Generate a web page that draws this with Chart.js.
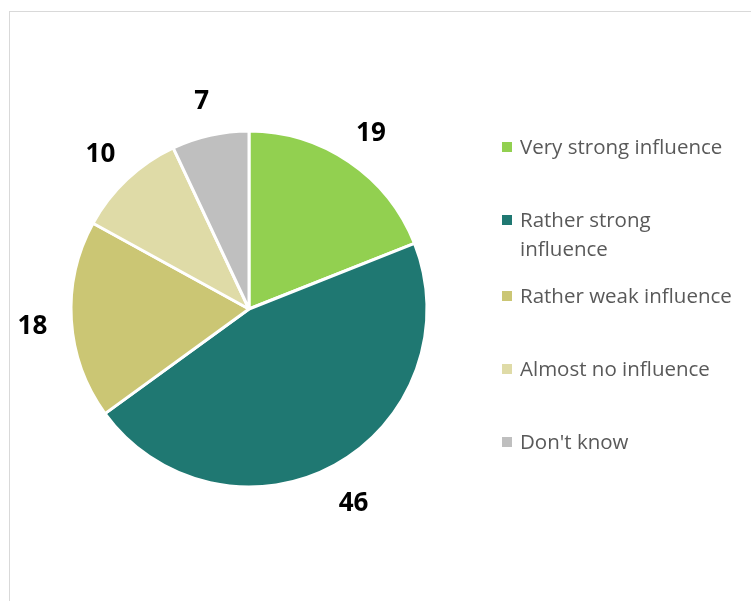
<!doctype html>
<html lang="en">
<head>
    <meta charset="UTF-8">
    <script src="https://cdn.jsdelivr.net/npm/chart.js"></script>
    <title>Influence pie</title>
    <style>
        html, body { margin: 0; padding: 0; background: #fff; }
        #wrap { position: relative; width: 751px; height: 601px; overflow: hidden; }
        #frame { position: absolute; left: 9px; top: 11px; width: 800px; height: 700px; border: 1px solid #d9d9d9; }
        #chart { position: absolute; left: 0; top: 0; }
        .item { position: absolute; left: 502px; font-family: "Open Sans", sans-serif; font-size: 20.5px; line-height: 29px; color: #595959; white-space: nowrap; }
        .item i { position: absolute; left: 0; top: 10px; width: 10px; height: 10px; }
        .item span { display: block; margin-left: 18px; }
    </style>
</head>
<body>
<div id="wrap">
    <div id="frame"></div>
    <canvas id="chart" width="751" height="601"></canvas>
    <div id="legend"></div>
</div>
<script>
    const categories = ['Very strong influence', 'Rather strong influence', 'Rather weak influence', 'Almost no influence', "Don't know"];
    const legendLines = [['Very strong influence'], ['Rather strong', 'influence'], ['Rather weak influence'], ['Almost no influence'], ["Don't know"]];
    const values = [19, 46, 18, 10, 7];
    const colors = ['#92d050', '#1f7872', '#cbc674', '#dfdba7', '#bfbfbf'];

    // legend rows, first-line top in px
    const legendTops = [132, 205, 281, 354, 427];
    const legend = document.getElementById('legend');
    legendLines.forEach((lines, i) => {
        const d = document.createElement('div');
        d.className = 'item';
        d.style.top = legendTops[i] + 'px';
        d.innerHTML = '<i style="background:' + colors[i] + '"></i><span>' + lines.join('<br>') + '</span>';
        legend.appendChild(d);
    });

    // value labels outside each slice
    const outsideLabels = {
        id: 'outsideLabels',
        afterDatasetsDraw(chart) {
            const ctx = chart.ctx;
            const meta = chart.getDatasetMeta(0);
            ctx.save();
            ctx.font = 'bold 26px "Open Sans", sans-serif';
            ctx.fillStyle = '#000';
            ctx.textAlign = 'center';
            ctx.textBaseline = 'middle';
            meta.data.forEach((arc, i) => {
                const p = arc.getProps(['x', 'y', 'startAngle', 'endAngle', 'outerRadius']);
                const a = (p.startAngle + p.endAngle) / 2;
                const r = p.outerRadius + 39;
                ctx.fillText(values[i], p.x + Math.cos(a) * r, p.y + Math.sin(a) * r + 4);
            });
            ctx.restore();
        }
    };

    new Chart(document.getElementById('chart'), {
        type: 'pie',
        data: {
            labels: categories,
            datasets: [{
                data: values,
                backgroundColor: colors,
                borderColor: '#fff',
                borderWidth: 3,
                radius: 178
            }]
        },
        options: {
            responsive: false,
            animation: false,
            layout: { padding: { left: 71, right: 324, top: 131, bottom: 114 } },
            plugins: { legend: { display: false }, tooltip: { enabled: false } }
        },
        plugins: [outsideLabels]
    });
</script>
</body>
</html>
